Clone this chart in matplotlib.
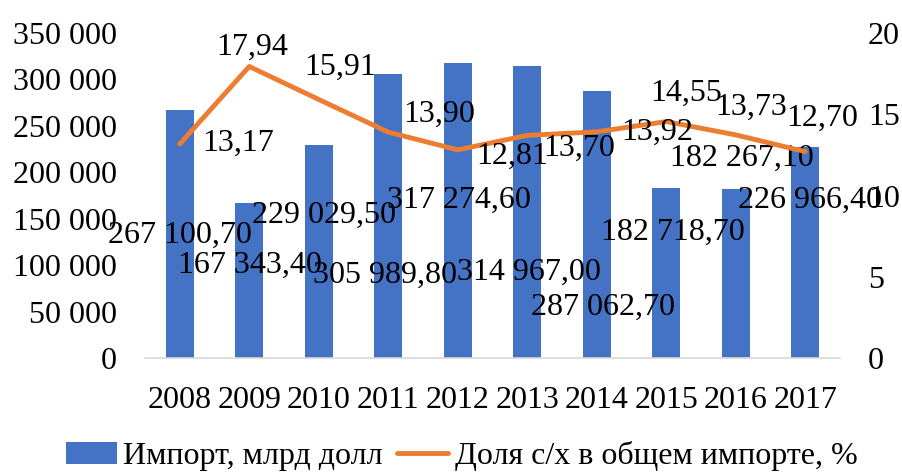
import matplotlib.pyplot as plt
import numpy as np

plt.rcParams['font.family'] = ['Liberation Serif', 'DejaVu Serif']

years = ['2008', '2009', '2010', '2011', '2012', '2013', '2014', '2015', '2016', '2017']
imports = [267100.70, 167343.40, 229029.50, 305989.80, 317274.60,
           314967.00, 287062.70, 182718.70, 182267.10, 226966.40]
share = [13.17, 17.94, 15.91, 13.90, 12.81, 13.70, 13.92, 14.55, 13.73, 12.70]

# label positions as they sit in the original (x index, axis value)
bar_lbl_pos = [(0.0, 132500), (1.01, 100200), (2.08, 154000), (2.95, 89400), (4.02, 170200),
               (5.03, 92600), (6.09, 54900), (7.09, 135700), (8.09, 215400), (9.07, 170200)]
line_lbl_pos = [(0.84, 13.2), (1.04, 19.1), (2.31, 17.9), (3.74, 15.0), (4.78, 12.4),
                (5.75, 12.9), (6.87, 13.9), (7.29, 16.3), (8.22, 15.45), (9.24, 14.75)]

BLUE = '#4472C4'
ORANGE = '#ED7D31'
FS = 23


def fmt_ru(v, dec=2):
    s = f"{v:,.{dec}f}"
    return s.replace(',', ' ').replace('.', ',')


fig = plt.figure(figsize=(9.03, 4.73), dpi=100)
ax = fig.add_axes([145 / 903, 1 - 358 / 473, 695 / 903, 325 / 473])
ax2 = ax.twinx()

x = np.arange(len(years))
bars = ax.bar(x, imports, width=0.4, color=BLUE, label='Импорт, млрд долл', zorder=2)
line, = ax2.plot(x, share, color=ORANGE, lw=3.5, solid_capstyle='round',
                 label='Доля с/х в общем импорте, %', zorder=3)

ax.set_xlim(-0.5, len(years) - 0.5)
ax.set_ylim(0, 350000)
ax2.set_ylim(0, 20)
ax.set_yticks(np.arange(0, 350001, 50000))
ax.set_yticklabels([fmt_ru(t, 0) for t in np.arange(0, 350001, 50000)])
ax2.set_yticks([0, 5, 10, 15, 20])
ax.set_xticks(x)
ax.set_xticklabels(years)

for a in (ax, ax2):
    for s in a.spines.values():
        s.set_visible(False)
    a.tick_params(length=0, labelsize=FS)
ax.spines['bottom'].set_visible(True)
ax.spines['bottom'].set_color('#D9D9D9')
ax.spines['bottom'].set_linewidth(1.2)
ax.tick_params(axis='y', pad=20)
ax.tick_params(axis='x', pad=20)
ax2.tick_params(axis='y', pad=20)

for v, (px, py) in zip(imports, bar_lbl_pos):
    ax.text(px, py, fmt_ru(v), ha='center', va='center', fontsize=FS, zorder=5)
for v, (px, py) in zip(share, line_lbl_pos):
    ax2.text(px, py, fmt_ru(v), ha='center', va='center', fontsize=FS, zorder=5)

fig.legend([bars, line], [bars.get_label(), line.get_label()], loc='center',
           bbox_to_anchor=(0.511, 1 - 456 / 473), ncol=2, frameon=False, fontsize=FS,
           handlelength=1.6, handletextpad=0.2, columnspacing=0.45)

fig.savefig('out.png', dpi=100)
